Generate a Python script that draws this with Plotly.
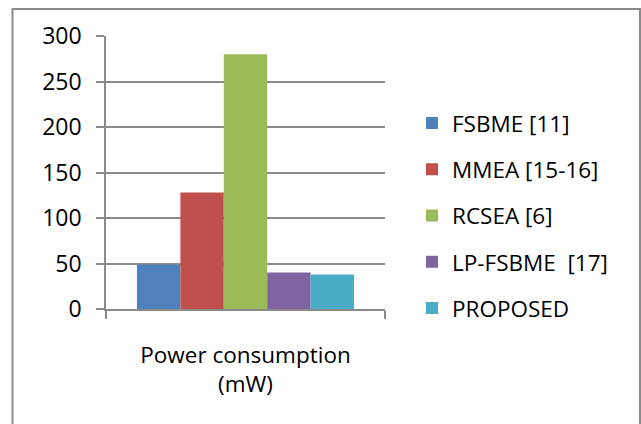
import plotly.graph_objects as go

# Clustered column chart: power consumption of motion-estimation architectures
category = ["Power consumption<br>(mW)"]
series_names = ["FSBME [11]", "MMEA [15-16]", "RCSEA [6]", "LP-FSBME  [17]", "PROPOSED"]
power_mw = [49, 128, 280, 40, 38]
series_colors = ["#4F81BD", "#C0504D", "#9BBB59", "#8064A2", "#4BACC6"]
y_ticks = [0, 50, 100, 150, 200, 250, 300]

FONT = "Open Sans, Calibri, Carlito, sans-serif"
GRID = "#8A8A8A"

W, H = 641, 424
ML, MR, MT, MB = 106, 256, 36, 114.5

fig = go.Figure()
for i, (name, val, col) in enumerate(zip(series_names, power_mw, series_colors)):
    fig.add_trace(go.Bar(
        x=category, y=[val], name=name,
        marker=dict(color=col, line=dict(width=0)),
        legendgroup=f"g{i}",
        hoverinfo="y+name",
    ))

# outer chart frame (paper coordinates relative to the plot area)
pw, ph = W - ML - MR, H - MT - MB
def px_x(x):
    return (x - ML) / pw
def px_y(y):
    return (H - MB - y) / ph

fig.add_shape(type="rect", xref="paper", yref="paper",
              x0=px_x(12.5), x1=px_x(640), y0=px_y(430), y1=px_y(9),
              line=dict(color="#8A8A8A", width=2), fillcolor="rgba(0,0,0,0)",
              layer="below")

fig.update_layout(
    width=W, height=H,
    margin=dict(l=ML, r=MR, t=MT, b=MB, pad=0),
    paper_bgcolor="white", plot_bgcolor="white",
    barmode="group", bargap=0.222, bargroupgap=0,
    font=dict(family=FONT, size=22, color="#000000"),
    showlegend=True,
    legend=dict(
        x=px_x(412), xanchor="left", y=px_y(102), yanchor="top",
        font=dict(family=FONT, size=22.5, color="#000000"),
        tracegroupgap=14, itemwidth=30,
        bgcolor="rgba(0,0,0,0)",
    ),
    xaxis=dict(
        showline=True, linecolor=GRID, linewidth=1.5,
        ticks="outside", ticklen=8, tickwidth=1.5, tickcolor=GRID,
        tickson="boundaries", showgrid=False,
        ticklabelstandoff=25,
        tickfont=dict(family=FONT, size=22.5, color="#000000"),
        fixedrange=True,
    ),
    yaxis=dict(
        range=[0, 300], tickvals=y_ticks,
        showline=True, linecolor=GRID, linewidth=1.5,
        ticks="outside", ticklen=8, tickwidth=1.5, tickcolor=GRID,
        showgrid=True, gridcolor=GRID, gridwidth=1.5,
        zeroline=False,
        ticklabelstandoff=10,
        tickfont=dict(family=FONT, size=23, color="#000000"),
        fixedrange=True,
    ),
)

fig.write_html("out.html")
